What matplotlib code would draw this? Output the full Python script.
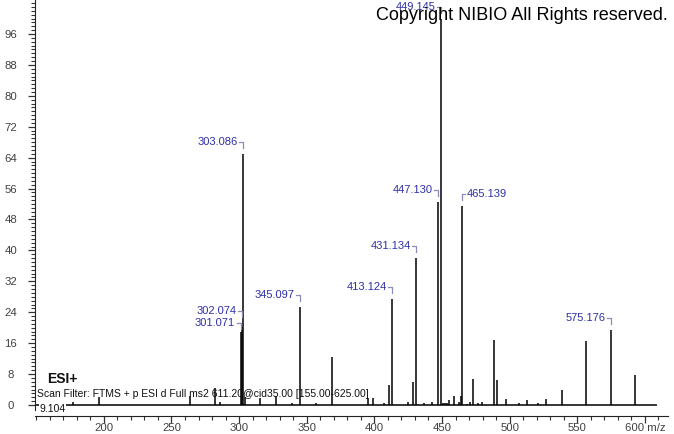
import matplotlib
matplotlib.use("Agg")
import matplotlib.pyplot as plt
import matplotlib.transforms as mtransforms
import numpy as np

# ---- data ----
peak_mz = [177.4, 196.4, 263.7, 282.0, 285.8, 301.071, 302.074, 303.086, 304.09,
           315.5, 327.2, 339.3, 345.097, 356.8, 368.9, 395.5, 399.2, 407.3, 411.0,
           413.124, 425.1, 428.8, 431.134, 436.9, 442.6, 447.130, 449.145, 451.1,
           452.4, 453.5, 455.4, 459.1, 462.8, 464.0, 465.139, 468.2, 470.7, 473.1,
           476.8, 479.3, 488.4, 490.9, 497.1, 507.1, 513.1, 521.2, 527.1, 538.9,
           556.7, 575.176, 592.9]
peak_int = [0.8, 2.1, 2.2, 4.5, 0.8, 19.0, 20.2, 65.0, 2.0,
            1.9, 2.3, 0.6, 25.4, 0.5, 12.3, 1.7, 1.9, 0.5, 5.2,
            27.4, 0.8, 5.9, 38.1, 0.5, 0.8, 52.4, 100.0, 0.5,
            0.4, 0.5, 1.3, 2.3, 0.9, 2.4, 51.5, 0.3, 0.8, 6.7,
            0.4, 0.8, 16.8, 6.5, 1.6, 0.6, 1.3, 0.6, 1.6, 3.9,
            16.5, 19.4, 7.8]
label_mz = [301.071, 302.074, 303.086, 345.097, 413.124, 431.134, 447.130,
            449.145, 465.139, 575.176]
label_text = ["301.071", "302.074", "303.086", "345.097", "413.124", "431.134",
              "447.130", "449.145", "465.139", "575.176"]
x_major = [200, 250, 300, 350, 400, 450, 500, 550, 600]
x_labels = ["200", "250", "300", "350", "400", "450", "500", "550", "600 m/z"]
y_major = list(range(0, 97, 8))

# ---- layout / style (not data) ----
label_side = ["L", "L", "L", "L", "L", "L", "L", "L", "R", "L"]
label_dy = [8.6, 15.9, 12, 11.5, 12.5, 11.5, 12, 12, 12, 12]

W, H = 674, 434
fig = plt.figure(figsize=(W / 100, H / 100), dpi=100)
ax = fig.add_axes([35 / W, 1 - 416 / H, 633 / W, 416 / H])
ax.set_xlim(149.1, 617.1)
ax.set_ylim(-2.85, 104.8)

FONT = "Liberation Sans"
blue = "#2f2fa8"
lead = "#8c8cb8"

# baseline and peaks
ax.hlines(0, 149.1, 609, color="black", lw=1.1)
ax.vlines(peak_mz, 0, peak_int, color="black", lw=1.1)

lookup = dict(zip(peak_mz, peak_int))
for m, t, side, dy in zip(label_mz, label_text, label_side, label_dy):
    h = lookup[m]
    T = mtransforms.Affine2D().scale(fig.dpi / 100) + \
        mtransforms.ScaledTranslation(m, h, ax.transData)
    if side == "L":
        ax.plot([-4, 0, 0], [dy, dy, dy - 6], color=lead, lw=0.9, transform=T,
                clip_on=False)
        ax.text(-5.5, dy, t, transform=T, ha="right", va="center", color=blue,
                fontsize=8, family=FONT)
    else:
        ax.plot([0, 0, 3], [dy - 6, dy, dy], color=lead, lw=0.9, transform=T,
                clip_on=False)
        ax.text(4, dy, t, transform=T, ha="left", va="center", color=blue,
                fontsize=8, family=FONT)

# axes styling
for s in ["top", "right"]:
    ax.spines[s].set_visible(False)
ax.spines["left"].set_bounds(-1.3, 104.8)
ax.spines["left"].set_color("#222222")
ax.spines["bottom"].set_color("#222222")

ax.set_xticks(x_major)
ax.set_xticklabels(x_labels)
ax.set_xticks(np.arange(150, 611, 10), minor=True)
ax.set_yticks(y_major)
ax.set_yticks(np.arange(0, 105, 1), minor=True)
ax.tick_params(axis="both", which="major", direction="out", length=5,
               width=0.9, colors="#333333", labelsize=8.2, labelcolor="#404040")
ax.tick_params(axis="both", which="minor", direction="out", length=3,
               width=0.8, colors="#333333")
ax.tick_params(axis="x", which="major", pad=0.2)
ax.tick_params(axis="y", which="major", pad=12.5)
for lbl in ax.get_yticklabels():
    lbl.set_horizontalalignment("center")
    lbl.set_family(FONT)
for lbl in ax.get_xticklabels():
    lbl.set_family(FONT)

# texts
fig.text(668 / W, 1 - 20 / H, "Copyright NIBIO All Rights reserved.",
         ha="right", va="baseline", fontsize=13, family=FONT, color="black")
fig.text(47 / W, 1 - 383 / H, "ESI+", ha="left", va="baseline", fontsize=10,
         fontweight="bold", family=FONT, color="#111111")
fig.text(37 / W, 1 - 397 / H,
         "Scan Filter: FTMS + p ESI d Full ms2 611.20@cid35.00 [155.00-625.00]",
         ha="left", va="baseline", fontsize=7.5, family=FONT, color="#111111")
fig.text(39.5 / W, 1 - 411.5 / H, "9.104", ha="left", va="baseline", fontsize=7.5,
         family=FONT, color="#111111",
         bbox=dict(facecolor="white", edgecolor="none", pad=0.3))

fig.savefig("out.png", dpi=100)
